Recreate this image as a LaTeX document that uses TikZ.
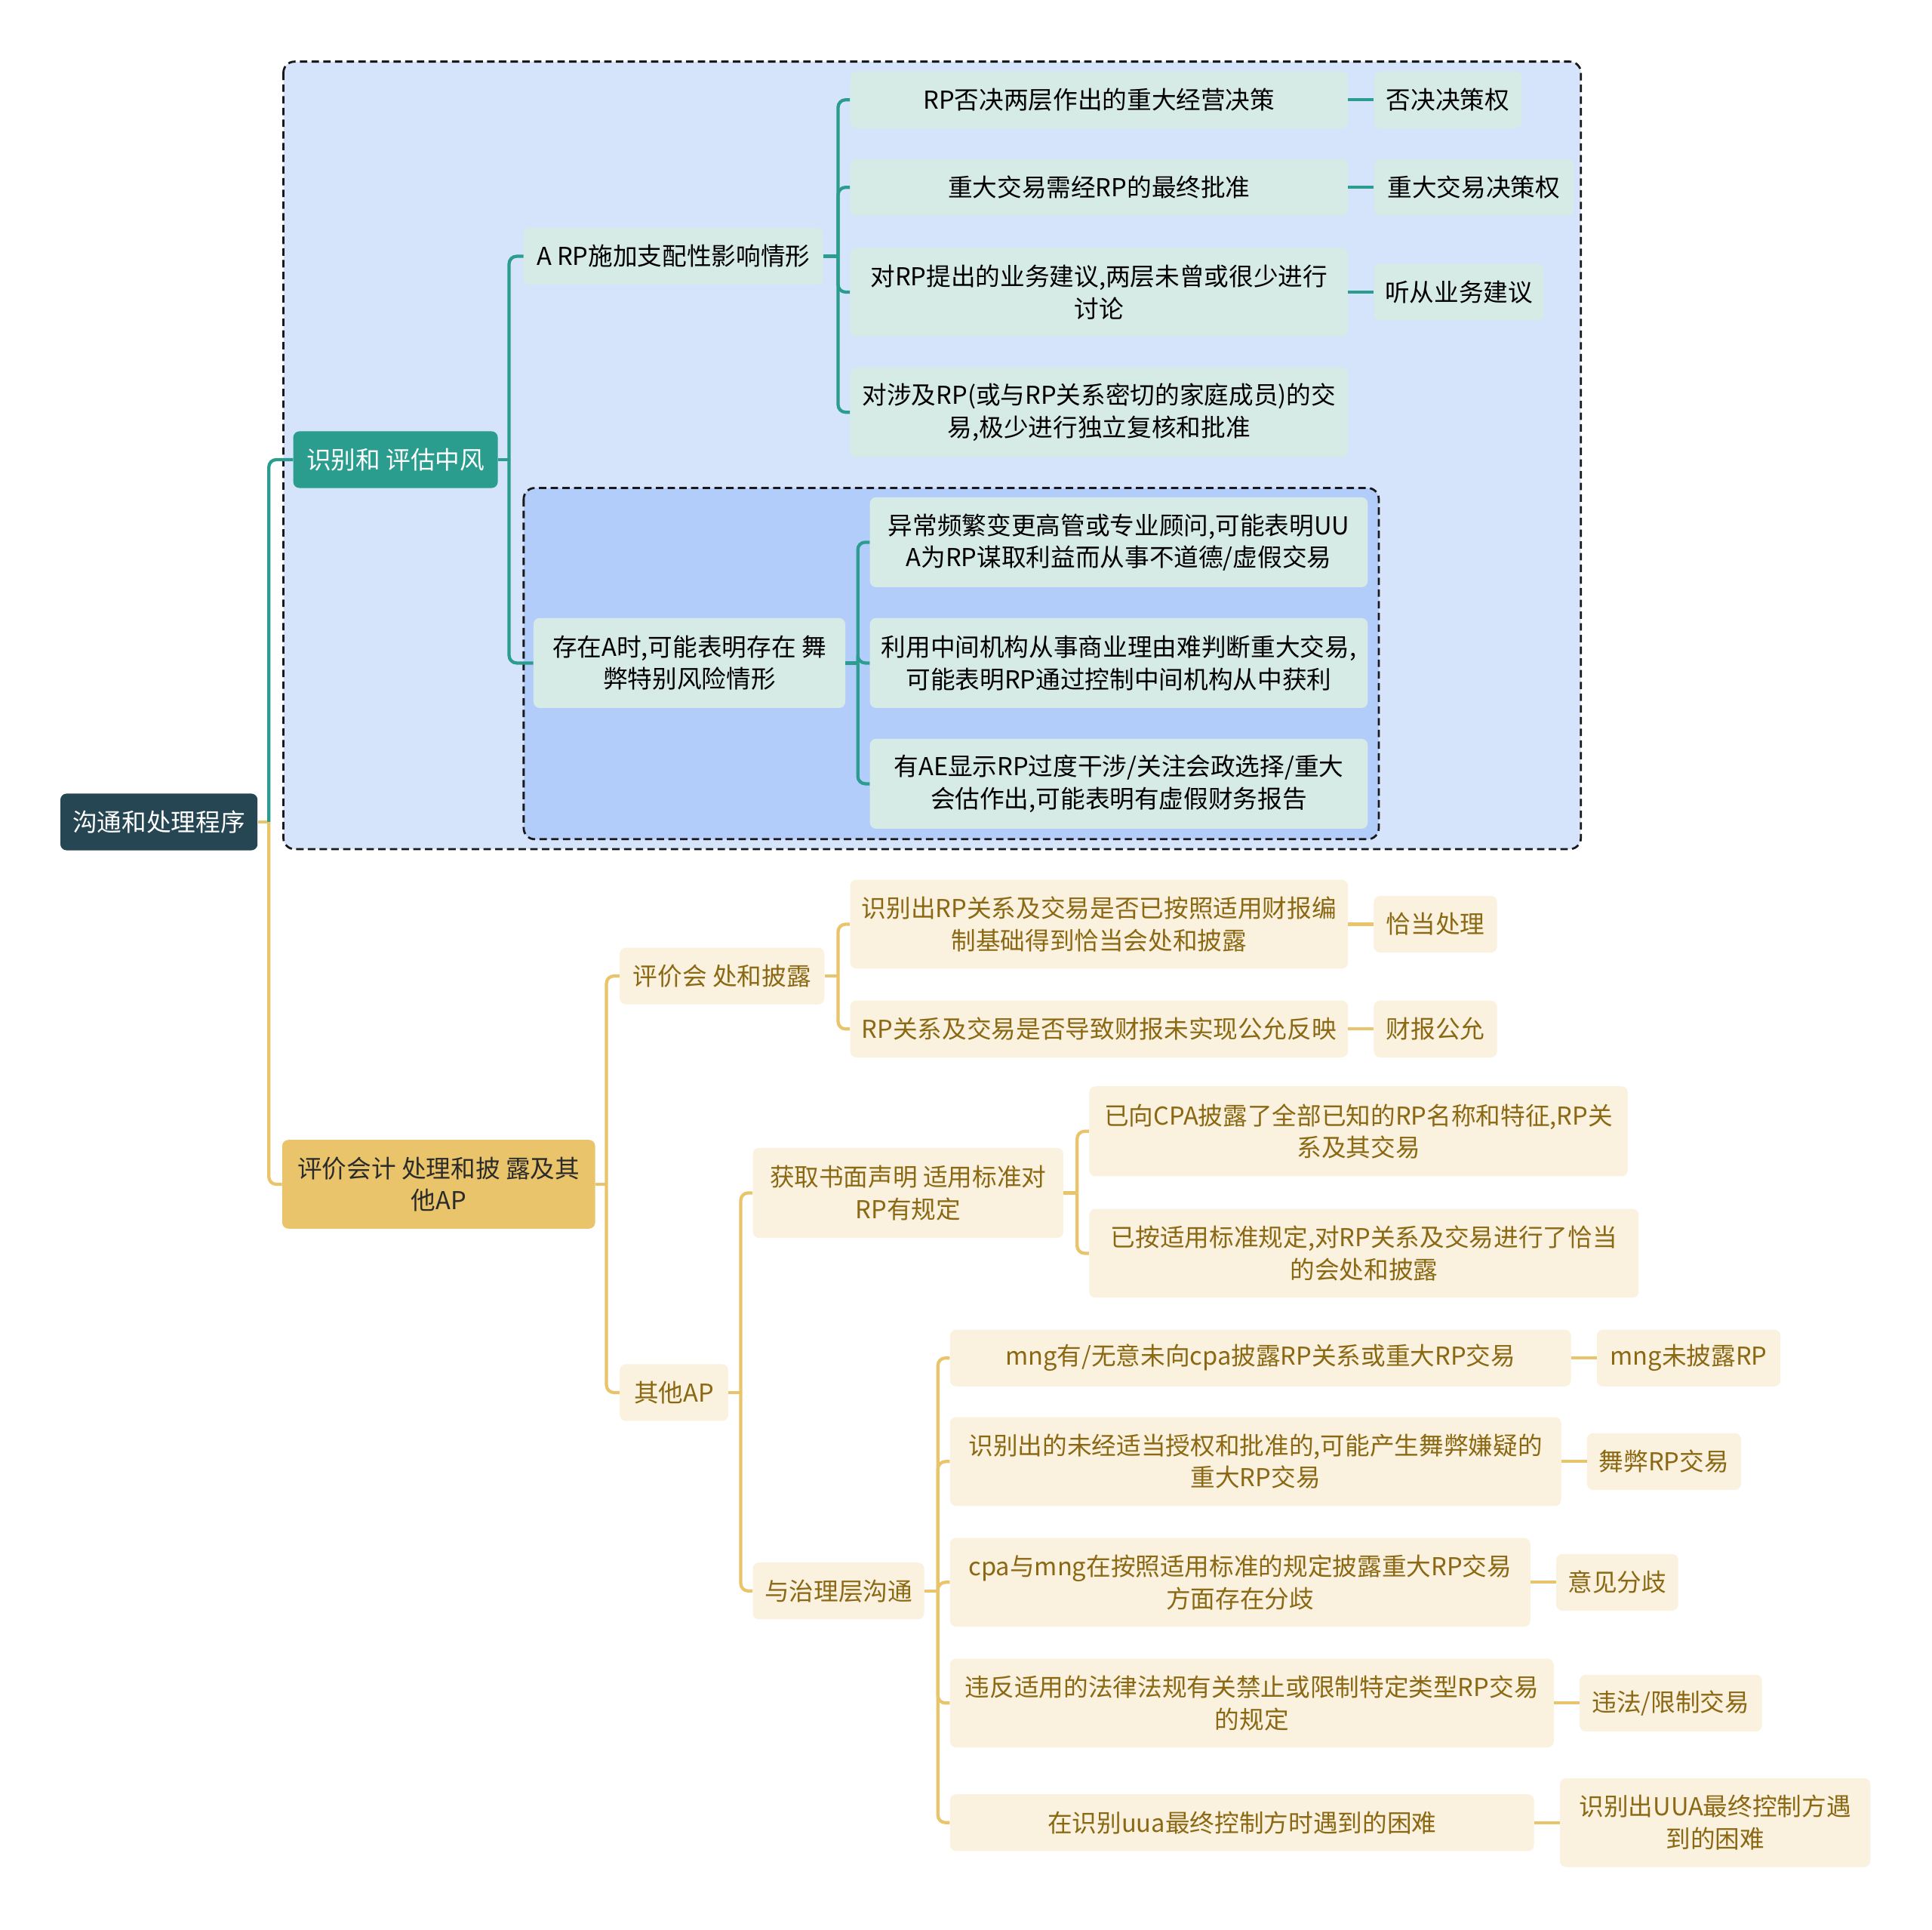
\documentclass[tikz,border=0pt]{standalone}
\usepackage{fontspec}
\newfontfamily\cjk{Noto Sans CJK SC}
\definecolor{cRoot}{HTML}{264653}
\definecolor{cTeal}{HTML}{2A9D8F}
\definecolor{cGold}{HTML}{E9C46A}
\definecolor{cMint}{HTML}{D6EAE6}
\definecolor{cCream}{HTML}{FAF1DE}
\definecolor{cBrown}{HTML}{8B6914}
\definecolor{cDark}{HTML}{2B2B2B}
\definecolor{cOuter}{HTML}{D5E4FB}
\definecolor{cInner}{HTML}{B3CDFB}
\begin{document}
\begin{tikzpicture}[x=1pt,y=-1pt,
  every node/.style={font=\cjk\fontsize{20}{26}\selectfont, align=center, inner sep=0pt, rounded corners=5pt},
  rootn/.style={fill=cRoot, text=white},
  tealn/.style={fill=cTeal, text=white},
  goldn/.style={fill=cGold, text=cDark},
  mint/.style={fill=cMint, text=black},
  cream/.style={fill=cCream, text=cBrown},
  tline/.style={draw=cTeal, line width=2.6pt, rounded corners=6pt},
  gline/.style={draw=cGold, line width=2.6pt, rounded corners=6pt},
  group/.style={draw=black!90, dash pattern=on 6pt off 3.5pt, line width=1.7pt, rounded corners=9pt}
]
\useasboundingbox (0,0) rectangle (1568,1566);
\fill[white] (0,0) rectangle (1568,1566);
% group boxes
\path[group, fill=cOuter] (230,50) rectangle (1283,689);
\path[group, fill=cInner] (425,396) rectangle (1119,681);

% root and level 1
\node[rootn, minimum width=160, minimum height=46] (root) at (129,667) {沟通和处理程序};
\node[tealn, minimum width=166, minimum height=46] (T1) at (321,373) {识别和 评估中风};
\node[goldn, minimum width=254, minimum height=72] (G1) at (356,961) {评价会计 处理和披 露及其\\他AP};

% teal subtree
\node[mint, minimum width=243, minimum height=46] (A) at (546.5,208) {A RP施加支配性影响情形};
\node[mint, minimum width=404, minimum height=46] (A1) at (892,81) {RP否决两层作出的重大经营决策};
\node[mint, minimum width=120, minimum height=46] (A1L) at (1175,81) {否决决策权};
\node[mint, minimum width=404, minimum height=46] (A2) at (892,152) {重大交易需经RP的最终批准};
\node[mint, minimum width=162, minimum height=46] (A2L) at (1196,152) {重大交易决策权};
\node[mint, minimum width=404, minimum height=72] (A3) at (892,237) {对RP提出的业务建议,两层未曾或很少进行\\讨论};
\node[mint, minimum width=138, minimum height=46] (A3L) at (1184,237) {听从业务建议};
\node[mint, minimum width=404, minimum height=73] (A4) at (892,334.5) {对涉及RP(或与RP关系密切的家庭成员)的交\\易,极少进行独立复核和批准};

\node[mint, minimum width=253, minimum height=73] (B) at (559.5,538) {存在A时,可能表明存在 舞\\弊特别风险情形};
\node[mint, minimum width=404, minimum height=73] (B1) at (908,440) {异常频繁变更高管或专业顾问,可能表明UU\\A为RP谋取利益而从事不道德/虚假交易};
\node[mint, minimum width=404, minimum height=73] (B2) at (908,538) {利用中间机构从事商业理由难判断重大交易,\\可能表明RP通过控制中间机构从中获利};
\node[mint, minimum width=404, minimum height=73] (B3) at (908,636) {有AE显示RP过度干涉/关注会政选择/重大\\会估作出,可能表明有虚假财务报告};

% gold subtree
\node[cream, minimum width=166, minimum height=46] (C) at (586,792) {评价会 处和披露};
\node[cream, minimum width=404, minimum height=72] (C1) at (892,750) {识别出RP关系及交易是否已按照适用财报编\\制基础得到恰当会处和披露};
\node[cream, minimum width=100, minimum height=46] (C1L) at (1165,750) {恰当处理};
\node[cream, minimum width=404, minimum height=46] (C2) at (892,835) {RP关系及交易是否导致财报未实现公允反映};
\node[cream, minimum width=100, minimum height=46] (C2L) at (1165,835) {财报公允};

\node[cream, minimum width=88, minimum height=46] (D) at (547,1130) {其他AP};
\node[cream, minimum width=252, minimum height=73] (D1) at (737,968) {获取书面声明 适用标准对\\RP有规定};
\node[cream, minimum width=437, minimum height=73] (D1a) at (1102.5,918) {已向CPA披露了全部已知的RP名称和特征,RP关\\系及其交易};
\node[cream, minimum width=446, minimum height=72] (D1b) at (1107,1017) {已按适用标准规定,对RP关系及交易进行了恰当\\的会处和披露};
\node[cream, minimum width=139, minimum height=46] (D2) at (680.5,1291) {与治理层沟通};

\node[cream, minimum width=504, minimum height=46] (E1) at (1023,1102) {mng有/无意未向cpa披露RP关系或重大RP交易};
\node[cream, minimum width=149, minimum height=46] (E1L) at (1370.5,1102) {mng未披露RP};
\node[cream, minimum width=496, minimum height=72] (E2) at (1019,1186) {识别出的未经适当授权和批准的,可能产生舞弊嫌疑的\\重大RP交易};
\node[cream, minimum width=125, minimum height=46] (E2L) at (1350.5,1186) {舞弊RP交易};
\node[cream, minimum width=471, minimum height=72] (E3) at (1006.5,1284) {cpa与mng在按照适用标准的规定披露重大RP交易\\方面存在分歧};
\node[cream, minimum width=99, minimum height=46] (E3L) at (1312.5,1284) {意见分歧};
\node[cream, minimum width=490, minimum height=72] (E4) at (1016,1382) {违反适用的法律法规有关禁止或限制特定类型RP交易\\的规定};
\node[cream, minimum width=148, minimum height=46] (E4L) at (1356,1382) {违法/限制交易};
\node[cream, minimum width=474, minimum height=46] (E5) at (1008,1479) {在识别uua最终控制方时遇到的困难};
\node[cream, minimum width=252, minimum height=72] (E5L) at (1392,1479) {识别出UUA最终控制方遇\\到的困难};

% connectors: root
\draw[gline] (root.east) -- ([xshift=9]root.east);
\draw[tline] (T1.west) -| ([xshift=9]root.east);
\draw[gline] (G1.west) -| ([xshift=9]root.east);
% teal
\draw[tline] (T1.east) -- ([xshift=9]T1.east);
\draw[tline] (A.west) -| ([xshift=9]T1.east);
\draw[tline] (B.west) -| ([xshift=9]T1.east);
\draw[tline] (A.east) -- ([xshift=12]A.east);
\foreach \c in {A1,A2,A3,A4} \draw[tline] (\c.west) -| ([xshift=12]A.east);
\draw[tline] (B.east) -- ([xshift=10]B.east);
\foreach \c in {B1,B2,B3} \draw[tline] (\c.west) -| ([xshift=10]B.east);
\draw[tline] (A1.east) -- (A1L.west);
\draw[tline] (A2.east) -- (A2L.west);
\draw[tline] (A3.east) -- (A3L.west);
% gold
\draw[gline] (G1.east) -- ([xshift=9]G1.east);
\draw[gline] (C.west) -| ([xshift=9]G1.east);
\draw[gline] (D.west) -| ([xshift=9]G1.east);
\draw[gline] (C.east) -- ([xshift=11]C.east);
\foreach \c in {C1,C2} \draw[gline] (\c.west) -| ([xshift=11]C.east);
\draw[gline] (C1.east) -- (C1L.west);
\draw[gline] (C2.east) -- (C2L.west);
\draw[gline] (D.east) -- ([xshift=10]D.east);
\draw[gline] (D1.west) -| ([xshift=10]D.east);
\draw[gline] (D2.west) -| ([xshift=10]D.east);
\draw[gline] (D1.east) -- ([xshift=11]D1.east);
\foreach \c in {D1a,D1b} \draw[gline] (\c.west) -| ([xshift=11]D1.east);
\draw[gline] (D2.east) -- ([xshift=11]D2.east);
\foreach \c in {E1,E2,E3,E4,E5} \draw[gline] (\c.west) -| ([xshift=11]D2.east);
\draw[gline] (E1.east) -- (E1L.west);
\draw[gline] (E2.east) -- (E2L.west);
\draw[gline] (E3.east) -- (E3L.west);
\draw[gline] (E4.east) -- (E4L.west);
\draw[gline] (E5.east) -- (E5L.west);
\end{tikzpicture}
\end{document}
